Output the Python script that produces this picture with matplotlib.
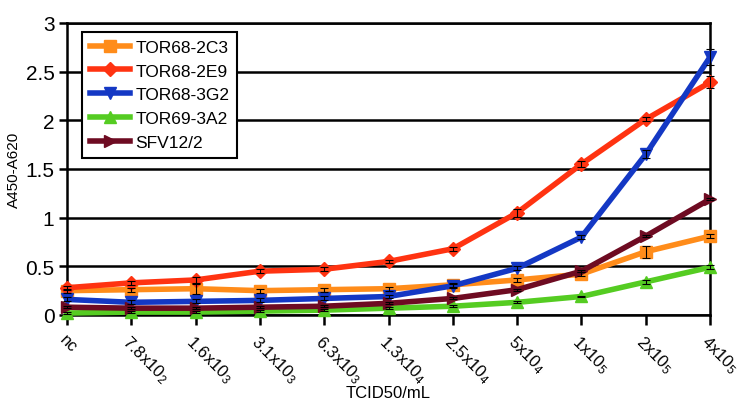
import matplotlib.pyplot as plt
import matplotlib.transforms as mtransforms

plt.rcParams['font.family'] = ['Liberation Sans', 'DejaVu Sans']
plt.rcParams['mathtext.fontset'] = 'custom'
plt.rcParams['mathtext.rm'] = 'Liberation Sans'
plt.rcParams['mathtext.it'] = 'Liberation Sans'

categories = ["nc", "7.8x10$_2$", "1.6x10$_3$", "3.1x10$_3$", "6.3x10$_3$", "1.3x10$_4$",
              "2.5x10$_4$", "5x10$_4$", "1x10$_5$", "2x10$_5$", "4x10$_5$"]

tor68_2c3 = [0.25, 0.26, 0.27, 0.25, 0.26, 0.27, 0.31, 0.36, 0.42, 0.65, 0.81]
tor68_2e9 = [0.28, 0.33, 0.36, 0.45, 0.47, 0.55, 0.68, 1.05, 1.55, 2.01, 2.39]
tor68_3g2 = [0.16, 0.13, 0.14, 0.15, 0.17, 0.19, 0.30, 0.48, 0.80, 1.65, 2.65]
tor69_3a2 = [0.02, 0.03, 0.03, 0.04, 0.05, 0.07, 0.09, 0.13, 0.19, 0.34, 0.49]
sfv12_2 = [0.08, 0.07, 0.07, 0.08, 0.09, 0.12, 0.17, 0.26, 0.45, 0.81, 1.19]

err_2c3 = [0.02, 0.02, 0.05, 0.02, 0.02, 0.02, 0.02, 0.02, 0.02, 0.06, 0.02]
err_2e9 = [0.02, 0.02, 0.03, 0.02, 0.02, 0.02, 0.02, 0.04, 0.03, 0.02, 0.06]
err_3g2 = [0.02, 0.02, 0.02, 0.02, 0.02, 0.02, 0.02, 0.02, 0.02, 0.04, 0.08]
err_3a2 = [0.01, 0.01, 0.01, 0.01, 0.01, 0.01, 0.01, 0.01, 0.01, 0.02, 0.02]
err_sfv = [0.01, 0.01, 0.01, 0.01, 0.01, 0.01, 0.01, 0.01, 0.01, 0.01, 0.01]

series = [
    ("TOR68-2C3", tor68_2c3, err_2c3, "#FF8C1A", "s"),
    ("TOR68-2E9", tor68_2e9, err_2e9, "#FF3311", "D"),
    ("TOR68-3G2", tor68_3g2, err_3g2, "#1438C4", "v"),
    ("TOR69-3A2", tor69_3a2, err_3a2, "#55CC22", "^"),
    ("SFV12/2", sfv12_2, err_sfv, "#6E0B22", ">"),
]

fig = plt.figure(figsize=(7.5, 4.06), dpi=100)
ax = fig.add_axes([0.0893, 0.2217, 0.8574, 0.7193])

x = list(range(len(categories)))
for name, vals, err, color, marker in series:
    ax.plot(x, vals, color=color, lw=4, marker=marker, ms=9 if marker != "D" else 7,
            label=name, clip_on=False, zorder=3)
    ax.errorbar(x, vals, yerr=err, fmt="none", ecolor="black", elinewidth=0.8,
                capsize=3, capthick=0.8, zorder=4, clip_on=False)

ax.set_xlim(0, 10)
ax.set_ylim(0, 3)
ax.set_yticks([0, 0.5, 1, 1.5, 2, 2.5, 3])
ax.set_yticklabels(["0", "0.5", "1", "1.5", "2", "2.5", "3"], fontsize=15)
ax.yaxis.grid(True, color="black", lw=1.8)
ax.set_axisbelow(True)
ax.set_xticks(x)
ax.set_xticklabels(categories, rotation=-45, ha="left", va="top", fontsize=12,
                   rotation_mode="anchor")
shift = mtransforms.ScaledTranslation(-5 / 100, 2 / 100, fig.dpi_scale_trans)
for lbl in ax.get_xticklabels():
    lbl.set_transform(lbl.get_transform() + shift)
ax.tick_params(axis="x", length=7, width=1.8, direction="out", pad=5)
ax.tick_params(axis="y", length=6, width=1.8, direction="out", pad=3)
for s in ax.spines.values():
    s.set_linewidth(1.8)

ax.set_xlabel("TCID50/mL", fontsize=12)
ax.xaxis.set_label_coords(0.5, -0.24)
ax.set_ylabel("A450-A620", fontsize=11)
ax.yaxis.set_label_coords(-0.072, 0.5)

leg = ax.legend(loc="upper left", bbox_to_anchor=(0.024, 0.97), fontsize=12.5,
                frameon=True, fancybox=False, edgecolor="black", framealpha=1,
                handlelength=2.3, handletextpad=0.3, borderpad=0.45, labelspacing=0.5,
                borderaxespad=0)
leg.get_frame().set_linewidth(1.5)

fig.savefig("out.png", dpi=100)
